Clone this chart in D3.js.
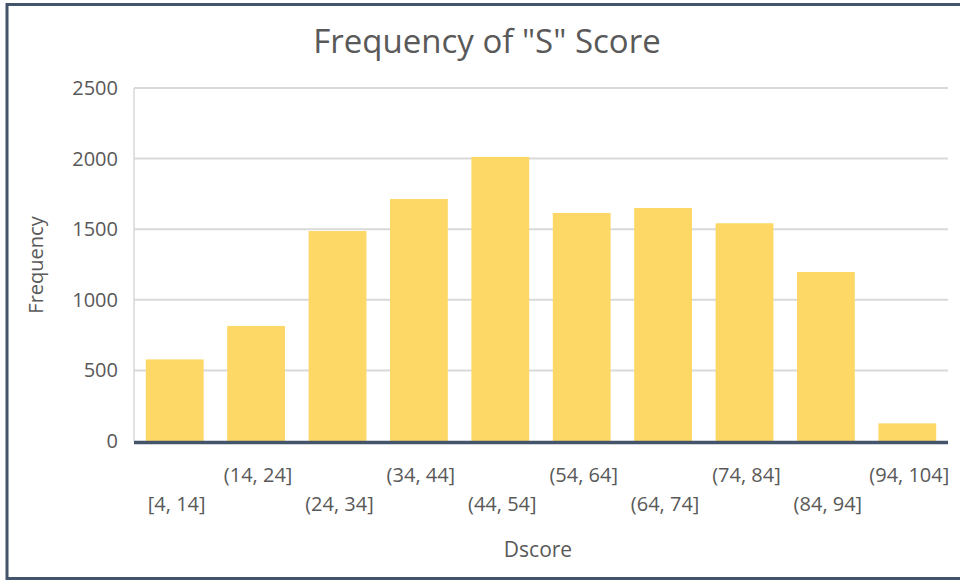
<!DOCTYPE html>
<html>
<head>
<meta charset="utf-8">
<script src="https://cdn.jsdelivr.net/npm/d3@7"></script>
<style>
  body { margin: 0; background: #fff; }
  svg text { font-family: "Open Sans", "Noto Sans", sans-serif; fill: #595959; }
</style>
</head>
<body>
<svg id="chart" width="960" height="581"></svg>
<script>
// bins of the "S" score and how many fall in each
var bins = ["[4, 14]", "(14, 24]", "(24, 34]", "(34, 44]", "(44, 54]",
            "(54, 64]", "(64, 74]", "(74, 84]", "(84, 94]", "(94, 104]"];
var counts = [578, 815, 1487, 1714, 2012, 1615, 1650, 1542, 1197, 125];
var yTicks = [0, 500, 1000, 1500, 2000, 2500];

var svg = d3.select("#chart");
var plotL = 134, plotR = 948, plotT = 88, plotB = 441;

// outer frame (right edge runs off the picture)
svg.append("rect")
  .attr("x", 7).attr("y", 4.5)
  .attr("width", 970).attr("height", 574)
  .attr("fill", "none")
  .attr("stroke", "#44546a")
  .attr("stroke-width", 3);

var x = d3.scaleBand().domain(bins).range([plotL, plotR]).paddingInner(0.29).paddingOuter(0.145);
var y = d3.scaleLinear().domain([0, 2500]).range([plotB, plotT]);

// grid lines
svg.append("g").selectAll("line")
  .data(yTicks.slice(1))
  .join("line")
  .attr("x1", plotL).attr("x2", plotR)
  .attr("y1", function (d) { return y(d); })
  .attr("y2", function (d) { return y(d); })
  .attr("stroke", "#d9d9d9")
  .attr("stroke-width", 2);

svg.append("line")
  .attr("x1", plotL).attr("x2", plotL)
  .attr("y1", plotT).attr("y2", plotB)
  .attr("stroke", "#d9d9d9")
  .attr("stroke-width", 1.5);

// y tick labels
svg.append("g").selectAll("text")
  .data(yTicks)
  .join("text")
  .attr("x", 118)
  .attr("y", function (d) { return y(d); })
  .attr("dy", "0.35em")
  .attr("text-anchor", "end")
  .style("font-size", "20px")
  .text(function (d) { return d; });

// bars
svg.append("g").selectAll("rect")
  .data(counts)
  .join("rect")
  .attr("x", function (d, i) { return x(bins[i]); })
  .attr("width", x.bandwidth())
  .attr("y", function (d) { return y(d); })
  .attr("height", function (d) { return plotB - y(d); })
  .attr("fill", "#fdd866");

// base line
svg.append("line")
  .attr("x1", plotL).attr("x2", plotR)
  .attr("y1", plotB + 1.5).attr("y2", plotB + 1.5)
  .attr("stroke", "#44546a")
  .attr("stroke-width", 3.5);

// staggered category labels
svg.append("g").selectAll("text")
  .data(bins)
  .join("text")
  .attr("x", function (d) { return x(d) + x.bandwidth() / 2 + 2; })
  .attr("y", function (d, i) { return i % 2 ? 475 : 504; })
  .attr("dy", "0.35em")
  .attr("text-anchor", "middle")
  .style("font-size", "20px")
  .text(function (d) { return d; });

// titles
svg.append("text")
  .attr("x", 487).attr("y", 53)
  .attr("text-anchor", "middle")
  .style("font-size", "33px")
  .text('Frequency of "S" Score');

svg.append("text")
  .attr("x", 538).attr("y", 550)
  .attr("dy", "0.35em")
  .attr("text-anchor", "middle")
  .style("font-size", "21px")
  .text("Dscore");

svg.append("text")
  .attr("transform", "translate(36,265) rotate(-90)")
  .attr("dy", "0.35em")
  .attr("text-anchor", "middle")
  .style("font-size", "20px")
  .text("Frequency");
</script>
</body>
</html>
